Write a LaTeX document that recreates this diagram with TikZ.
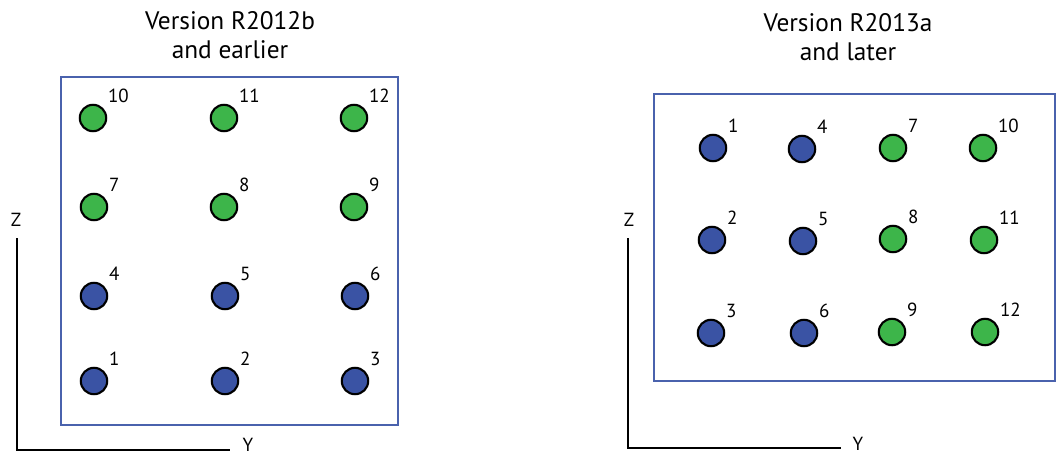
\documentclass[tikz,border=0pt]{standalone}
\usepackage{fontspec}
\setmainfont{PT Sans}
\usetikzlibrary{positioning}

\definecolor{dotblue}{HTML}{3A53A4}
\definecolor{dotgreen}{HTML}{3DB54A}
\definecolor{boxblue}{HTML}{4A62AD}

\begin{document}
\begin{tikzpicture}[x=0.025cm, y=-0.025cm]%
        \tikzstyle{dot}=[circle, draw=black, line width=1.5pt, minimum size=0.66cm, inner sep=0pt,
            label distance=-2pt, label={[font=\fontsize{13.5}{16}\selectfont, anchor=south west]45:#1}];%
        \tikzstyle{title}=[font=\fontsize{18}{21}\selectfont, align=center];%
        \tikzstyle{axis}=[font=\fontsize{13.5}{16}\selectfont];%
        \useasboundingbox (0, 0) rectangle (1058, 456);

        % left: version R2012b
        \node[title] (ta) at (230, 35) {Version R2012b\\and earlier};
        \draw[boxblue, line width=1.5pt] (61, 77) rectangle (398, 425);

        \node[dot=1, fill=dotblue] (l1) at (94, 381) {};
        \node[dot=2, fill=dotblue] (l2) at (225, 381) {};
        \node[dot=3, fill=dotblue] (l3) at (355, 381) {};
        \node[dot=4, fill=dotblue] (l4) at (94, 296) {};
        \node[dot=5, fill=dotblue] (l5) at (225, 296) {};
        \node[dot=6, fill=dotblue] (l6) at (355, 296) {};
        \node[dot=7, fill=dotgreen] (l7) at (94, 207) {};
        \node[dot=8, fill=dotgreen] (l8) at (224, 207) {};
        \node[dot=9, fill=dotgreen] (l9) at (354, 207) {};
        \node[dot=10, fill=dotgreen] (l10) at (93, 118) {};
        \node[dot=11, fill=dotgreen] (l11) at (224, 118) {};
        \node[dot=12, fill=dotgreen] (l12) at (354, 118) {};

        \coordinate (lz) at (17, 238);
        \coordinate (lo) at (17, 450);
        \coordinate (ly) at (230, 450);
        \node[axis] (lzl) at (16, 220) {Z};
        \node[axis] (lyl) at (248, 445) {Y};
        \draw[line width=1.5pt] (lz) -- (lo) -- (ly);

        % right: version R2013a
        \node[title] (tb) at (848, 37) {Version R2013a\\and later};
        \draw[boxblue, line width=1.5pt] (654, 94) rectangle (1055, 381);

        \node[dot=1, fill=dotblue] (r1) at (713, 148) {};
        \node[dot=2, fill=dotblue] (r2) at (712, 240) {};
        \node[dot=3, fill=dotblue] (r3) at (711, 333) {};
        \node[dot=4, fill=dotblue] (r4) at (802, 149) {};
        \node[dot=5, fill=dotblue] (r5) at (803, 241) {};
        \node[dot=6, fill=dotblue] (r6) at (804, 333) {};
        \node[dot=7, fill=dotgreen] (r7) at (893, 148) {};
        \node[dot=8, fill=dotgreen] (r8) at (893, 239) {};
        \node[dot=9, fill=dotgreen] (r9) at (892, 332) {};
        \node[dot=10, fill=dotgreen] (r10) at (983, 148) {};
        \node[dot=11, fill=dotgreen] (r11) at (984, 240) {};
        \node[dot=12, fill=dotgreen] (r12) at (985, 332) {};

        \coordinate (rz) at (628, 238);
        \coordinate (ro) at (628, 448);
        \coordinate (ry) at (841, 448);
        \node[axis] (rzl) at (629, 220) {Z};
        \node[axis] (ryl) at (858, 444) {Y};
        \draw[line width=1.5pt] (rz) -- (ro) -- (ry);
    \end{tikzpicture}
\end{document}
